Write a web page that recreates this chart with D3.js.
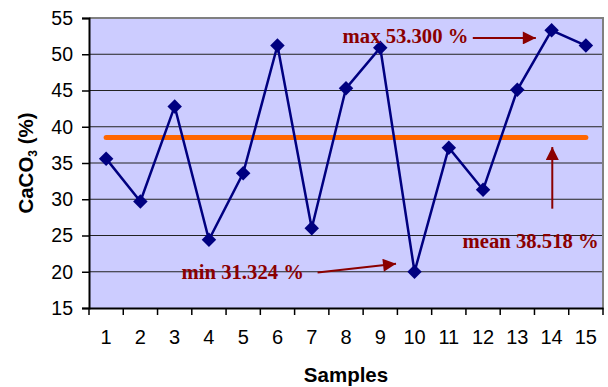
<!DOCTYPE html>
<html>
<head>
<meta charset="utf-8">
<script src="https://cdn.jsdelivr.net/npm/d3@7"></script>
<style>
  html, body { margin: 0; padding: 0; background: #fff; }
  svg { display: block; }
</style>
</head>
<body>
<svg id="chart" width="608" height="387"></svg>
<script>
// ---- data ----
const samples = [1, 2, 3, 4, 5, 6, 7, 8, 9, 10, 11, 12, 13, 14, 15];
const caco3 = [35.6, 29.7, 42.8, 24.4, 33.6, 51.2, 26.0, 45.3, 50.9, 20.0, 37.1, 31.3, 45.1, 53.3, 51.2];
const meanValue = 38.518;
const yTicks = [15, 20, 25, 30, 35, 40, 45, 50, 55];
const annotationTexts = ["max 53.300 %", "mean 38.518 %", "min 31.324 %"];
// annotation anchors in (sample, value) units
const annotationAnchors = [[7.90, 51.6], [11.40, 23.3], [3.20, 19.0]];
const annotationArrows = [
  [[11.70, 52.25], [13.54, 52.25]],
  [[14.02, 28.7], [14.02, 37.2]],
  [[7.17, 19.9], [9.46, 21.1]]
];

// ---- layout ----
const svg = d3.select("#chart");
const L = 89, R = 603, T = 18, B = 308;
const sans = "Arial, 'Liberation Sans', sans-serif";

const x = d3.scaleBand().domain(samples).range([L, R]).paddingInner(0).paddingOuter(0);
const xc = d => x(d) + x.bandwidth() / 2;
const xa = d3.scaleLinear().domain([0.5, samples.length + 0.5]).range([L, R]);
const y = d3.scaleLinear().domain([15, 55]).range([B, T]);

// plot background
svg.append("rect").attr("x", L).attr("y", T).attr("width", R - L).attr("height", B - T)
  .attr("fill", "#CCCCFF");

// gridlines
svg.append("g").selectAll("line").data(yTicks.slice(1, -1)).join("line")
  .attr("x1", L).attr("x2", R).attr("y1", d => y(d)).attr("y2", d => y(d))
  .attr("stroke", "#222").attr("stroke-width", 1);

// border (gray top/right)
svg.append("path").attr("d", `M${L},${T}H${R}V${B}`)
  .attr("fill", "none").attr("stroke", "#808080").attr("stroke-width", 2);

// y axis
const yAxis = svg.append("g").attr("transform", `translate(${L},0)`)
  .call(d3.axisLeft(y).tickValues(yTicks).tickSize(7).tickPadding(9).tickFormat(d3.format("d")));
yAxis.select(".domain").attr("stroke", "#000").attr("stroke-width", 2);
yAxis.selectAll(".tick line").attr("stroke", "#000").attr("stroke-width", 1.5);
yAxis.selectAll(".tick text").attr("font-family", sans)
  .attr("font-size", 19.5).attr("fill", "#000");

// x axis: ticks between categories
const xAxis = svg.append("g").attr("transform", `translate(0,${B})`)
  .call(d3.axisBottom(x).tickSize(0).tickPadding(22));
xAxis.select(".domain").attr("stroke", "#000").attr("stroke-width", 2);
xAxis.selectAll(".tick text").attr("font-family", sans)
  .attr("font-size", 20).attr("fill", "#000");
const xBoundaries = d3.range(0, samples.length + 1).map(i => 0.5 + i);
svg.append("g").selectAll("line").data(xBoundaries).join("line")
  .attr("x1", d => xa(d)).attr("x2", d => xa(d)).attr("y1", B).attr("y2", B + 7)
  .attr("stroke", "#000").attr("stroke-width", 1.5);

// axis titles
svg.append("text").attr("x", (L + R) / 2).attr("y", 381.5).attr("text-anchor", "middle")
  .attr("font-family", sans).attr("font-weight", "bold")
  .attr("font-size", 20.5).text("Samples");

const yt = svg.append("text").attr("transform", `translate(32.5,${(T + B) / 2}) rotate(-90)`)
  .attr("text-anchor", "middle")
  .attr("font-family", sans).attr("font-weight", "bold")
  .attr("font-size", 20.5);
yt.append("tspan").text("CaCO");
yt.append("tspan").attr("font-size", 12).attr("dy", 4).text("3");
yt.append("tspan").attr("dy", -4).text(" (%)");

// mean line
svg.append("line")
  .attr("x1", xc(samples[0])).attr("x2", xc(samples[samples.length - 1]))
  .attr("y1", y(meanValue)).attr("y2", y(meanValue))
  .attr("stroke", "#FF6600").attr("stroke-width", 5).attr("stroke-linecap", "round");

// data line
const line = d3.line().x((d, i) => xc(samples[i])).y(d => y(d));
svg.append("path").datum(caco3).attr("d", line)
  .attr("fill", "none").attr("stroke", "#000080").attr("stroke-width", 2.5);

// diamond markers
const diamond = d3.symbol().type(d3.symbolSquare).size(105);
svg.append("g").selectAll("path").data(caco3).join("path")
  .attr("d", diamond())
  .attr("transform", (d, i) => `translate(${xc(samples[i])},${y(d)}) rotate(45)`)
  .attr("fill", "#000080");

// annotations
const defs = svg.append("defs");
defs.append("marker").attr("id", "arrow").attr("viewBox", "0 0 10 10")
  .attr("refX", 10).attr("refY", 5).attr("markerWidth", 7).attr("markerHeight", 6.5)
  .attr("markerUnits", "strokeWidth").attr("orient", "auto")
  .append("path").attr("d", "M0,0L10,5L0,10Z").attr("fill", "#8B0000");

svg.append("g").selectAll("line").data(annotationArrows).join("line")
  .attr("x1", d => xa(d[0][0])).attr("y1", d => y(d[0][1]))
  .attr("x2", d => xa(d[1][0])).attr("y2", d => y(d[1][1]))
  .attr("stroke", "#8B0000").attr("stroke-width", 2).attr("marker-end", "url(#arrow)");

svg.append("g").selectAll("text").data(annotationTexts).join("text")
  .attr("x", (d, i) => xa(annotationAnchors[i][0]))
  .attr("y", (d, i) => y(annotationAnchors[i][1]))
  .attr("font-family", "'Liberation Serif', 'Times New Roman', serif")
  .attr("font-weight", "bold").attr("font-size", 20.7).attr("fill", "#8B0000")
  .text(d => d);
</script>
</body>
</html>
